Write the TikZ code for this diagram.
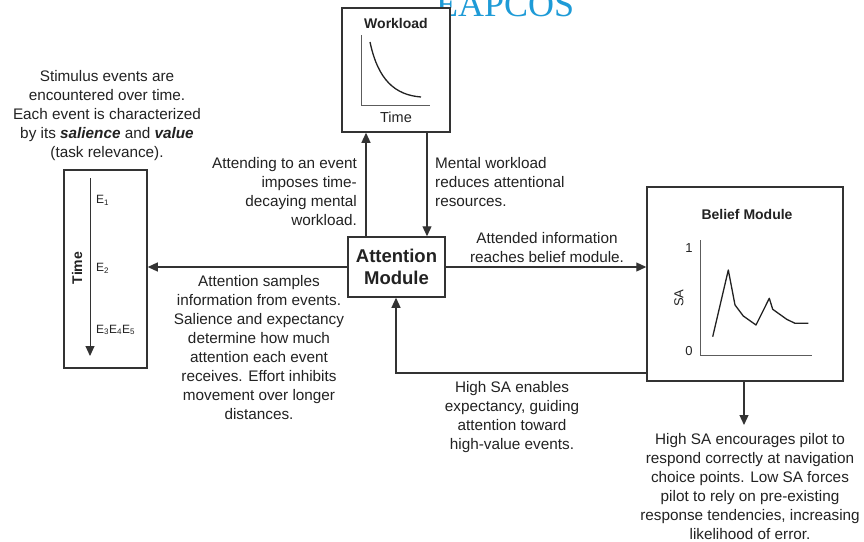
\documentclass[tikz,border=0pt]{standalone}
\usepackage{fontspec}
\setmainfont{Liberation Sans}
\newfontfamily\serifx{Liberation Serif}
\usetikzlibrary{arrows.meta,calc}
\definecolor{ink}{HTML}{222222}
\definecolor{linec}{HTML}{333333}
\definecolor{wmblue}{HTML}{1E9BD7}
\begin{document}
\begin{tikzpicture}[x=1pt,y=-1pt,
  box/.style={draw=linec,line width=1.5pt,fill=white,inner sep=0pt},
  arr/.style={draw=linec,line width=1.2pt,-{Triangle[length=10pt,width=9pt]}},
  axis/.style={draw=linec!80,line width=1pt},
  curve/.style={draw=ink,line width=1.3pt,line join=round},
  txt/.style={text=ink,inner sep=0pt,font=\fontsize{15.3}{19}\selectfont},
  ttl/.style={text=ink,inner sep=0pt,font=\fontsize{14}{16}\selectfont\bfseries},
  small/.style={text=ink,inner sep=0pt,font=\fontsize{12}{14}\selectfont}]
\useasboundingbox (0,0) rectangle (864,541);
\fill[white] (0,0) rectangle (864,541);
% watermark (cut off at the top edge, as in the reference)
\node[anchor=base west,inner sep=0pt,text=wmblue,font=\fontsize{36}{36}\serifx\selectfont] (wm) at (436,16) {EAPCOS};
% boxes
\node[box,minimum width=108pt,minimum height=124pt] (work) at (396,70) {};
\node[box,minimum width=97pt,minimum height=60pt,font=\fontsize{18.5}{22}\selectfont\bfseries,text=ink,align=center] (attn) at (396.5,267) {Attention\\Module};
\node[box,minimum width=83pt,minimum height=198pt] (events) at (105.5,269) {};
\node[box,minimum width=196pt,minimum height=194pt] (belief) at (745,284) {};
% workload graph
\node[ttl] (wt) at (396,23) {Workload};
\coordinate (w0) at (361,105);
\draw[axis] (361,35) -- (w0) -- (430,105);
\draw[curve] (370,42) .. controls (378,80) and (395,95) .. (421,97);
\node[text=ink,inner sep=0pt,font=\fontsize{14.5}{16}\selectfont] (wtime) at (396,117) {Time};
% events
\coordinate (ta) at (90,178);
\coordinate (tb) at (90,356);
\draw[arr,line width=1pt] (ta) -- (tb);
\node[ttl,rotate=90] (timelbl) at (77,268) {Time};
\node[small,anchor=west] (e1) at (96,200) {E\textsubscript{1}};
\node[small,anchor=west] (e2) at (96,268) {E\textsubscript{2}};
\node[small,anchor=west] (e3) at (96,330) {E\textsubscript{3}E\textsubscript{4}E\textsubscript{5}};
% belief graph
\node[ttl] (bt) at (747,214) {Belief Module};
\draw[axis] (700,240) -- (700,355) -- (812,355);
\node[small,font=\fontsize{13}{14}\selectfont] (one) at (689,248) {1};
\node[small,font=\fontsize{13}{14}\selectfont] (zero) at (689,351) {0};
\node[small,font=\fontsize{13}{14}\selectfont,rotate=90] (sa) at (679,298) {SA};
\draw[curve] (712.7,336.7) -- (728.3,270) -- (735,305) -- (743.3,316) -- (756,325) -- (769.3,298.3) -- (772.7,309.3) -- (786.7,319.3) -- (795,323.3) -- (808.3,323.3);
% connectors
\coordinate (u) at (366,0);
\coordinate (d) at (427,0);
\draw[arr] (attn.north -| u) -- (work.south -| u);
\draw[arr] (work.south -| d) -- (attn.north -| d);
\draw[arr] (attn.west) -- (attn.west -| events.east);
\draw[arr] (attn.east) -- (attn.east -| belief.west);
\coordinate (fb) at (396,373);
\draw[arr] (belief.west |- fb) -- (fb) -- (attn.south -| fb);
\coordinate (outb) at (744,425);
\draw[arr] (belief.south -| outb) -- (outb);
% texts
\node[txt,anchor=north,align=center] (stim) at (107,70) {Stimulus events are\\encountered over time.\\Each event is characterized\\by its \textbf{\textit{salience}} and \textbf{\textit{value}}\\(task relevance).};
\node[txt,anchor=north east,align=right] (attending) at (357,157) {Attending to an event\\imposes time-\\decaying mental\\workload.};
\node[txt,anchor=north west,align=left] (mental) at (435,157) {Mental workload\\reduces attentional\\resources.};
\node[txt,anchor=north,align=center] (attended) at (547,232) {Attended information\\reaches belief module.};
\node[txt,anchor=north,align=center] (samples) at (259,275) {Attention samples\\information from events.\\Salience and expectancy\\determine how much\\attention each event\\receives. Effort inhibits\\movement over longer\\distances.};
\node[txt,anchor=north,align=center] (highsa) at (512,381) {High SA enables\\expectancy, guiding\\attention toward\\high-value events.};
\node[txt,anchor=north,align=center] (encour) at (750,433) {High SA encourages pilot to\\respond correctly at navigation\\choice points. Low SA forces\\pilot to rely on pre-existing\\response tendencies, increasing\\likelihood of error.};
\end{tikzpicture}
\end{document}
